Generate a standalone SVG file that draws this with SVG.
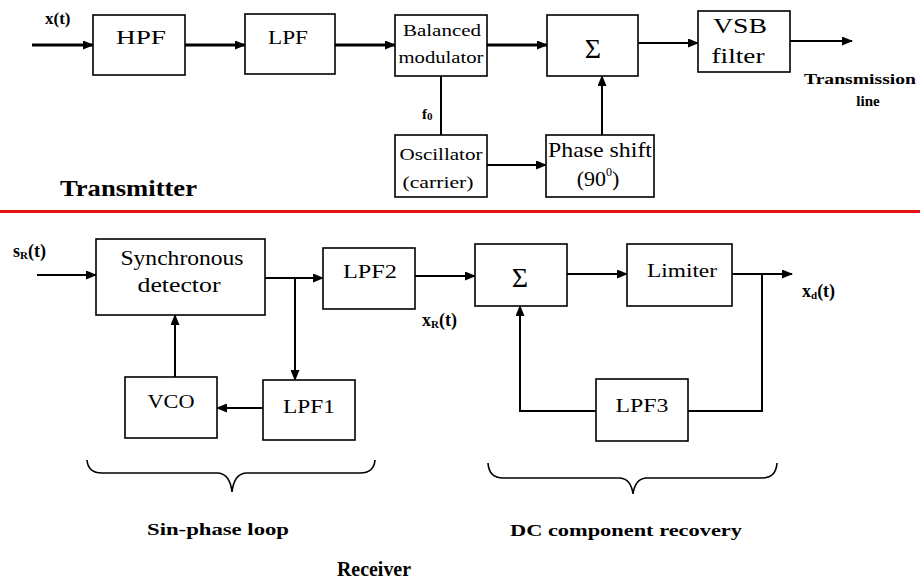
<svg xmlns="http://www.w3.org/2000/svg" width="920" height="581" viewBox="0 0 920 581" font-family="'Liberation Serif','Times New Roman','DejaVu Serif',serif">
<style>
.box{fill:#fff;stroke:#000;stroke-width:1.6}
.t{font-family:'Liberation Serif','Times New Roman',serif;fill:#000;text-anchor:middle}
.b{font-family:'Liberation Serif','Times New Roman',serif;font-weight:bold;fill:#000}
.w{fill:none;stroke:#000;stroke-width:2}
.wt{fill:none;stroke:#000;stroke-width:3}
.br{fill:none;stroke:#000;stroke-width:1.6}
</style>
<defs>
<marker id="ah" markerUnits="userSpaceOnUse" markerWidth="11" markerHeight="9" refX="10" refY="4.5" orient="auto"><path d="M0,0 L11,4.5 L0,9 z" fill="#000"/></marker>
</defs>
<rect width="920" height="581" fill="#fff"/>
<line x1="0" y1="211.5" x2="920" y2="211.5" stroke="#e81010" stroke-width="3"/>

<g id="connectors">
<line class="wt" x1="32" y1="45" x2="93" y2="45" marker-end="url(#ah)"/>
<line class="wt" x1="185" y1="45" x2="245" y2="45" marker-end="url(#ah)"/>
<line class="wt" x1="335" y1="45" x2="395" y2="45" marker-end="url(#ah)"/>
<line class="wt" x1="487" y1="45" x2="547" y2="45" marker-end="url(#ah)"/>
<line class="w" x1="638" y1="43" x2="698" y2="43" marker-end="url(#ah)"/>
<line class="w" x1="790" y1="41" x2="852" y2="41" marker-end="url(#ah)"/>
<line class="w" x1="441" y1="76" x2="441" y2="135"/>
<line class="w" x1="487" y1="165" x2="546" y2="165" marker-end="url(#ah)"/>
<line class="w" x1="602" y1="135" x2="602" y2="76" marker-end="url(#ah)"/>

<line class="w" x1="37" y1="275" x2="96" y2="275" marker-end="url(#ah)"/>
<line class="w" x1="265" y1="278" x2="323" y2="278" marker-end="url(#ah)"/>
<line class="w" x1="295" y1="278" x2="295" y2="380" marker-end="url(#ah)"/>
<line class="w" x1="263" y1="408" x2="217" y2="408" marker-end="url(#ah)"/>
<line class="w" x1="175" y1="377" x2="175" y2="315" marker-end="url(#ah)"/>
<line class="w" x1="415" y1="276" x2="475" y2="276" marker-end="url(#ah)"/>
<line class="w" x1="567" y1="274" x2="627" y2="274" marker-end="url(#ah)"/>
<line class="w" x1="732" y1="274" x2="792" y2="274" marker-end="url(#ah)"/>
<polyline class="w" points="762,274 762,411 688,411"/>
<polyline class="w" points="596,411 520,411 520,306" marker-end="url(#ah)"/>
</g>

<g id="hpf"><rect class="box" x="93" y="15" width="92" height="60"/><text class="t" x="141" y="44" font-size="18" textLength="50" lengthAdjust="spacingAndGlyphs">HPF</text></g>
<g id="lpf"><rect class="box" x="245" y="14" width="90" height="60"/><text class="t" x="288" y="44" font-size="18" textLength="40" lengthAdjust="spacingAndGlyphs">LPF</text></g>
<g id="balmod"><rect class="box" x="395" y="15" width="92" height="61"/><text class="t" x="442" y="36" font-size="16" textLength="78" lengthAdjust="spacingAndGlyphs">Balanced</text><text class="t" x="441" y="63" font-size="16" textLength="85" lengthAdjust="spacingAndGlyphs">modulator</text></g>
<g id="sum1"><rect class="box" x="547" y="15" width="91" height="61"/><text class="t" x="593" y="58" font-size="28">Σ</text></g>
<g id="vsb"><rect class="box" x="698" y="11" width="92" height="61"/><text class="t" x="740" y="33" font-size="22" textLength="54" lengthAdjust="spacingAndGlyphs">VSB</text><text class="t" x="738" y="63" font-size="22" textLength="53" lengthAdjust="spacingAndGlyphs">filter</text></g>
<g id="osc"><rect class="box" x="395" y="135" width="92" height="62"/><text class="t" x="441" y="160" font-size="16" textLength="83" lengthAdjust="spacingAndGlyphs">Oscillator</text><text class="t" x="438" y="188" font-size="16" textLength="71" lengthAdjust="spacingAndGlyphs">(carrier)</text></g>
<g id="phase"><rect class="box" x="546" y="135" width="108" height="62"/><text class="t" x="600" y="157" font-size="22" textLength="104" lengthAdjust="spacingAndGlyphs">Phase shift</text><text class="t" x="598" y="186" font-size="22">(90<tspan font-size="12" dy="-10">0</tspan><tspan dy="10">)</tspan></text></g>

<g id="labels-tx">
<text class="b" x="45" y="24" font-size="17">x(t)</text>
<text class="b" x="422" y="119" font-size="15">f<tspan font-size="11" dy="1">0</tspan></text>
<text class="b" x="860" y="84" font-size="14" text-anchor="middle" textLength="112" lengthAdjust="spacingAndGlyphs">Transmission</text>
<text class="b" x="868" y="106" font-size="15" text-anchor="middle">line</text>
<text class="b" x="60" y="196" font-size="24" textLength="137" lengthAdjust="spacingAndGlyphs">Transmitter</text>
</g>

<g id="syncdet"><rect class="box" x="96" y="239" width="169" height="76"/><text class="t" x="182" y="265" font-size="20" textLength="123" lengthAdjust="spacingAndGlyphs">Synchronous</text><text class="t" x="179" y="292" font-size="20" textLength="83" lengthAdjust="spacingAndGlyphs">detector</text></g>
<g id="lpf2"><rect class="box" x="323" y="248" width="92" height="61"/><text class="t" x="370" y="278" font-size="18" textLength="54" lengthAdjust="spacingAndGlyphs">LPF2</text></g>
<g id="vco"><rect class="box" x="125" y="377" width="92" height="61"/><text class="t" x="171" y="408" font-size="18" textLength="47" lengthAdjust="spacingAndGlyphs">VCO</text></g>
<g id="lpf1"><rect class="box" x="263" y="380" width="92" height="60"/><text class="t" x="309" y="413" font-size="18" textLength="52" lengthAdjust="spacingAndGlyphs">LPF1</text></g>
<g id="sum2"><rect class="box" x="475" y="244" width="92" height="62"/><text class="t" x="520" y="287" font-size="28">Σ</text></g>
<g id="limiter"><rect class="box" x="627" y="244" width="105" height="62"/><text class="t" x="682" y="277" font-size="18" textLength="70" lengthAdjust="spacingAndGlyphs">Limiter</text></g>
<g id="lpf3"><rect class="box" x="596" y="379" width="92" height="62"/><text class="t" x="642" y="412" font-size="18" textLength="53" lengthAdjust="spacingAndGlyphs">LPF3</text></g>

<g id="labels-rx">
<text class="b" x="13" y="257" font-size="18">s<tspan font-size="11" dy="2">R</tspan><tspan dy="-2">(t)</tspan></text>
<text class="b" x="422" y="326" font-size="18">x<tspan font-size="11" dy="2">R</tspan><tspan dy="-2">(t)</tspan></text>
<text class="b" x="802" y="297" font-size="18">x<tspan font-size="11" dy="2">d</tspan><tspan dy="-2">(t)</tspan></text>
<path class="br" d="M87,460 Q88,473 102,473 L218,473 Q230,474 232,492 Q234,474 246,473 L360,473 Q374,473 375,460"/>
<path class="br" d="M488,463 Q489,478 503,478 L620,478 Q631,479 633,494 Q635,479 646,478 L762,478 Q776,478 777,463"/>
<text class="b" x="147" y="535" font-size="17" textLength="142" lengthAdjust="spacingAndGlyphs">Sin-phase loop</text>
<text class="b" x="510" y="536" font-size="17" textLength="232" lengthAdjust="spacingAndGlyphs">DC component recovery</text>
<text class="b" x="337" y="576" font-size="22" textLength="74" lengthAdjust="spacingAndGlyphs">Receiver</text>
</g>
</svg>
